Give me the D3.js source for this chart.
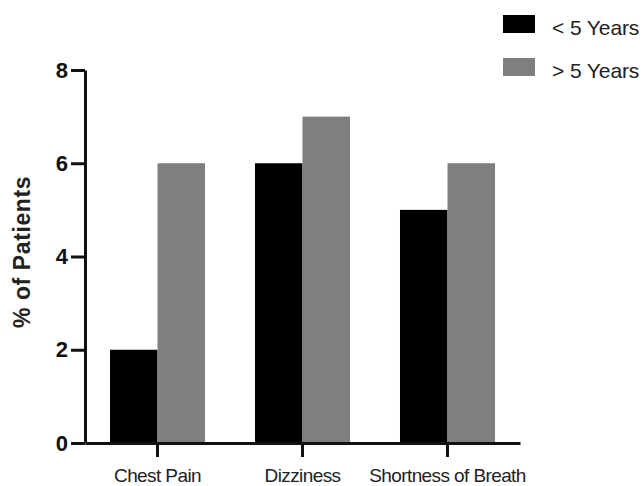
<!DOCTYPE html>
<html><head><meta charset="utf-8">
<script src="https://cdn.jsdelivr.net/npm/d3@7"></script>
<style>body{margin:0;background:#fff}svg{display:block}</style>
</head><body>
<svg id="c" width="644" height="486"></svg>
<script>
const categories = ["Chest Pain", "Dizziness", "Shortness of Breath"];
const seriesNames = ["< 5 Years", "> 5 Years"];
const lessThan5 = [2, 6, 5];
const moreThan5 = [6, 7, 6];
const yTicks = [0, 2, 4, 6, 8];
const colors = ["#000000", "#7f7f7f"];

const svg = d3.select("#c");
const font = "Liberation Sans, Arial, sans-serif";
const x0 = d3.scaleBand().domain(categories).range([85, 520]).padding(0);
const x1 = d3.scaleBand().domain(seriesNames).range([0, x0.bandwidth()]).paddingInner(0).paddingOuter(0.526);
const y = d3.scaleLinear().domain([0, 8]).range([443, 70]);

const values = [lessThan5, moreThan5];
categories.forEach((c, i) => {
  seriesNames.forEach((s, j) => {
    svg.append("rect")
      .attr("x", x0(c) + x1(s))
      .attr("y", y(values[j][i]))
      .attr("width", x1.bandwidth())
      .attr("height", y(0) - y(values[j][i]))
      .attr("fill", colors[j]);
  });
});

// Y axis
const ya = svg.append("g").attr("transform", "translate(85,0)")
  .call(d3.axisLeft(y).tickValues(yTicks).tickSize(14).tickSizeOuter(0).tickPadding(3).tickFormat(d3.format("d")));
ya.selectAll("path,line").attr("stroke", "#111").attr("stroke-width", 3);
ya.selectAll("text").attr("font-family", font).attr("font-size", 22).attr("font-weight", "bold").attr("fill", "#111");

// X axis
const xa = svg.append("g").attr("transform", "translate(0,443)")
  .call(d3.axisBottom(x0).tickSize(14).tickSizeOuter(0).tickPadding(12));
xa.selectAll("path,line").attr("stroke", "#111").attr("stroke-width", 3);
xa.selectAll("text").attr("font-family", font).attr("font-size", 19).attr("letter-spacing", "-0.6px").attr("fill", "#222").attr("dy", "0.71em");

// Y title
svg.append("text").attr("transform", "translate(30,252) rotate(-90)")
  .attr("text-anchor", "middle").attr("font-family", font).attr("font-size", 23).attr("font-weight", "bold")
  .attr("letter-spacing", "0.6px").attr("fill", "#222").text("% of Patients");

// Legend
seriesNames.forEach((s, j) => {
  const ly = 15 + j * 43;
  svg.append("rect").attr("x", 503).attr("y", ly).attr("width", 32).attr("height", 18).attr("fill", colors[j]);
  svg.append("text").attr("x", 552).attr("y", ly + 20).attr("font-family", font).attr("font-size", 21)
    .attr("letter-spacing", "-0.1px").attr("fill", "#222").text(s);
});
</script>
</body></html>
